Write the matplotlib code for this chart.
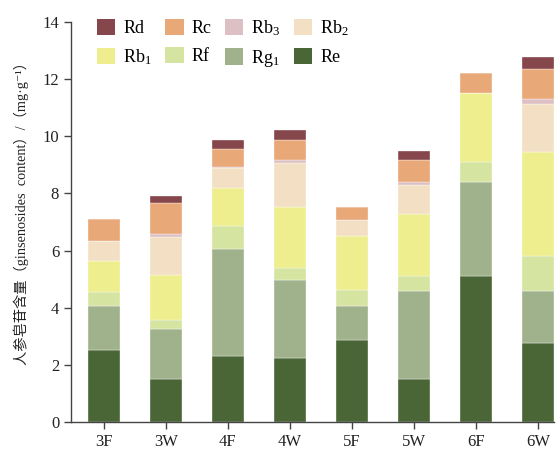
import numpy as np
import matplotlib
matplotlib.use("Agg")
import matplotlib.pyplot as plt
from matplotlib.patches import Patch

plt.rcParams['font.family'] = ['Liberation Serif', 'Noto Sans CJK SC', 'DejaVu Serif']
plt.rcParams['mathtext.fontset'] = 'custom'
plt.rcParams['mathtext.rm'] = 'Liberation Serif'
plt.rcParams['mathtext.default'] = 'regular'

# sample groups
groups = ['3F', '3W', '4F', '4W', '5F', '5W', '6F', '6W']

# ginsenoside contents (mg/g), stacked bottom -> top
Re  = [2.52, 1.51, 2.30, 2.25, 2.87, 1.49, 5.11, 2.77]
Rg1 = [1.53, 1.75, 3.76, 2.73, 1.20, 3.08, 3.28, 1.82]
Rf  = [0.49, 0.31, 0.81, 0.42, 0.55, 0.54, 0.71, 1.23]
Rb1 = [1.11, 1.58, 1.31, 2.14, 1.89, 2.16, 2.42, 3.63]
Rb2 = [0.69, 1.34, 0.71, 1.51, 0.55, 1.04, 0.00, 1.68]
Rb3 = [0.00, 0.09, 0.02, 0.12, 0.00, 0.09, 0.00, 0.18]
Rc  = [0.78, 1.07, 0.66, 0.69, 0.47, 0.76, 0.70, 1.05]
Rd  = [0.00, 0.26, 0.30, 0.36, 0.00, 0.33, 0.00, 0.41]

series = [
    ('Re', Re, '#4a6636'),
    ('Rg$_1$', Rg1, '#a0b28c'),
    ('Rf', Rf, '#d6e4a2'),
    ('Rb$_1$', Rb1, '#eeee8e'),
    ('Rb$_2$', Rb2, '#f3e0c4'),
    ('Rb$_3$', Rb3, '#dcc0c3'),
    ('Rc', Rc, '#e9a878'),
    ('Rd', Rd, '#86474c'),
]

fig = plt.figure(figsize=(5.58, 4.49), dpi=100)
ax = fig.add_axes([71/558, 1-422/449, (554-71)/558, 400/449])

x = np.arange(len(groups))
bottom = np.zeros(len(groups))
handles = {}
for name, vals, col in series:
    vals = np.array(vals)
    ax.bar(x, vals, width=0.52, bottom=bottom, color=col, edgecolor='white', linewidth=0.25)
    bottom += vals
    handles[name] = Patch(facecolor=col, label=name)

ax.set_xlim(-0.53, 7.26)
ax.set_ylim(0, 14)
ax.set_yticks(range(0, 15, 2))
ax.set_xticks(x)
ax.set_xticklabels(groups)

for s in ['top', 'right']:
    ax.spines[s].set_visible(False)
for s in ['left', 'bottom']:
    ax.spines[s].set_color('#444444')
    ax.spines[s].set_linewidth(1.0)
ax.tick_params(axis='both', direction='out', length=5, width=1.0, color='#444444',
               labelsize=12, labelcolor='#222222')

ax.set_ylabel('人参皂苷含量（ginsenosides  content）/（mg·g⁻¹）', fontsize=10.3, color='#222222')
ax.yaxis.set_label_coords(-0.087, 0.53)

# legend row-wise: Rd Rc Rb3 Rb2 / Rb1 Rf Rg1 Re
order = ['Rd', 'Rb$_1$', 'Rc', 'Rf', 'Rb$_3$', 'Rg$_1$', 'Rb$_2$', 'Re']
fig.legend([handles[k] for k in order], order, ncol=4, frameon=False,
           loc='upper left', bbox_to_anchor=(88/558, 1-9/449),
           fontsize=13, handlelength=1.0, handleheight=1.0, handletextpad=0.45,
           columnspacing=0.75, labelspacing=0.55, borderpad=0)

fig.savefig('out.png', dpi=100)
